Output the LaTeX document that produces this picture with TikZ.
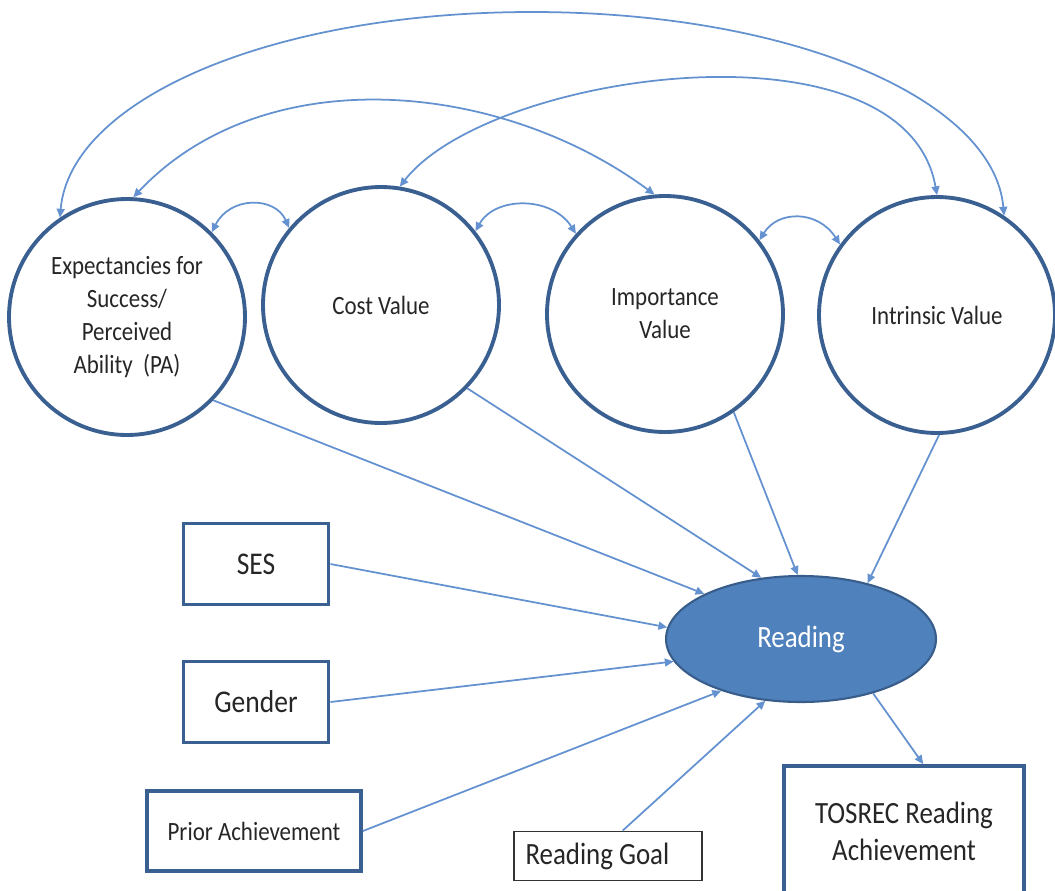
\documentclass[tikz,border=0pt]{standalone}
\usepackage{fontspec}
\setmainfont{Carlito}[FakeStretch=0.87]
\usepackage{xcolor}
\usepackage{tikz}
\usetikzlibrary{arrows.meta,shapes.geometric}

\definecolor{circblue}{RGB}{58,96,146}
\definecolor{linkblue}{RGB}{100,146,208}
\definecolor{fillblue}{RGB}{79,129,189}
\definecolor{edgeblue}{RGB}{56,93,138}

\begin{document}
\begin{tikzpicture}[x=0.02cm,y=-0.02cm,>={Triangle[length=5pt,width=4.5pt]},
  construct/.style={circle,draw=circblue,line width=2.2pt,minimum size=4.72cm,inner sep=0pt,
    align=center,text=black!85,font=\fontsize{15}{18.7}\selectfont},
  observed/.style={rectangle,draw=circblue,line width=2.2pt,inner sep=0pt,align=center,text=black!85},
  link/.style={->,draw=linkblue,line width=1pt},
  corr/.style={<->,draw=linkblue,line width=1pt}]
\useasboundingbox (0,0) rectangle (1055,890);

% Motivation constructs
\node[construct] (pa) at (127,317) {Expectancies for\\Success/\\Perceived\\Ability\ \ (PA)};
\node[construct] (cost) at (381,305) {Cost Value};
\node[construct] (imp) at (665,314) {Importance\\Value};
\node[construct] (intr) at (937,315) {Intrinsic Value};

% Outcome
\node[ellipse,draw=edgeblue,line width=1.2pt,fill=fillblue,minimum width=5.4cm,minimum height=2.52cm,
  inner sep=0pt,text=white,font=\fontsize{17.6}{21}\selectfont] (read) at (801,639) {Reading};

% Covariates
\node[observed,minimum width=2.9cm,minimum height=1.62cm,font=\fontsize{18}{22}\selectfont] (ses) at (256,564) {SES};
\node[observed,minimum width=2.9cm,minimum height=1.62cm,font=\fontsize{18}{22}\selectfont] (gender) at (256,702) {Gender};
\node[observed,minimum width=4.28cm,minimum height=1.6cm,font=\fontsize{15}{18}\selectfont] (prior) at (254,831) {Prior Achievement};
\node[rectangle,draw=black!80,line width=1pt,minimum width=3.76cm,minimum height=0.98cm,inner sep=0pt,
  text width=3.3cm,align=flush left,text=black!85,font=\fontsize{17.6}{21}\selectfont] (goal) at (608,856) {Reading Goal};
\node[observed,minimum width=4.8cm,minimum height=2.6cm,font=\fontsize{17.6}{21}\selectfont] (tosrec) at (904,831) {TOSREC Reading\\Achievement};

% Paths to Reading
\foreach \src/\a/\b in {pa/-44/155, cost/-44/123, imp/-55/93, intr/-89/40} {
    \draw[link] (\src.\a) -- (read.\b);
}
\foreach \src/\a/\b in {ses/east/175, gender/east/190, prior/east/213, goal/60/240} {
    \draw[link] (\src.\a) -- (read.\b);
}
\draw[link] (read.-37) -- (tosrec.74);

% Correlations between constructs
\draw[corr] (pa.45) .. controls (230,196) and (275,196) .. (cost.140);
\draw[corr] (cost.38) .. controls (495,196) and (552,196) .. (imp.138);
\draw[corr] (imp.38) .. controls (778,210) and (818,210) .. (intr.144);
\draw[corr] (pa.87) .. controls (265,58) and (501,81) .. (imp.95);
\draw[corr] (cost.81) .. controls (490,71) and (905,14) .. (intr.90);
\draw[corr] (pa.124) .. controls (70,100) and (270,12) .. (532,12)
    .. controls (794,12) and (994,100) .. (intr.56);
\end{tikzpicture}
\end{document}
